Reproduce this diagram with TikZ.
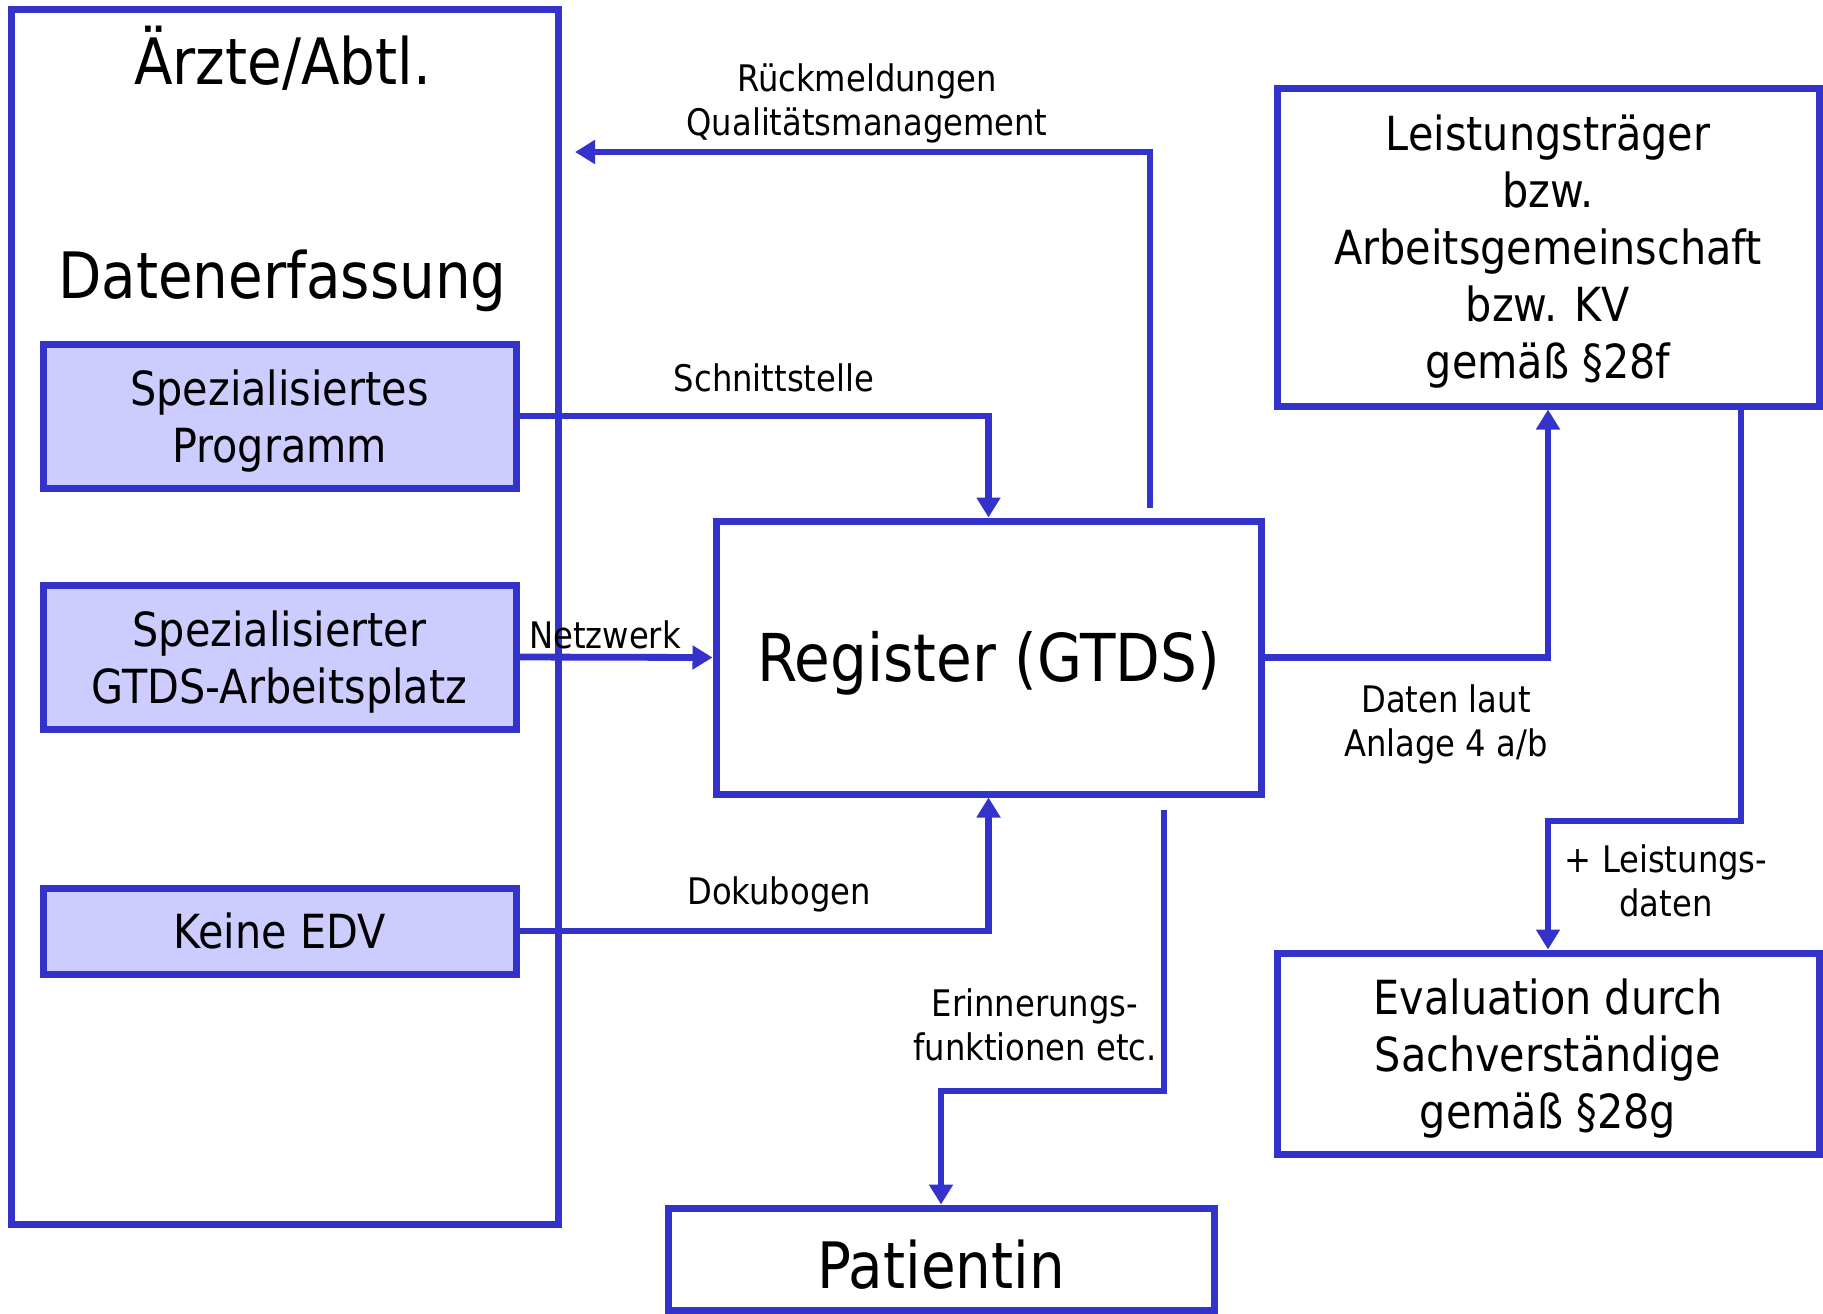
\documentclass[tikz,border=0pt]{standalone}
\usepackage{fontspec}
\setmainfont{DejaVu Sans}[FakeStretch=0.88]
\usetikzlibrary{arrows.meta,calc}
\definecolor{bl}{HTML}{3333CC}
\definecolor{lf}{HTML}{CCCCFF}
\begin{document}
\begin{tikzpicture}[x=0.5pt,y=-0.5pt,
  box/.style={draw=bl,line width=3.5pt,inner sep=0pt,align=center,text depth=0pt},
  boxfont/.style={font=\fontsize{23.5}{28.5}\selectfont},
  subbox/.style={box,boxfont,fill=lf,minimum width=236.5pt,minimum height=72pt},
  conn/.style={draw=bl,line width=3.4pt},
  arr/.style={conn,-{Triangle[length=10pt,width=11.5pt]}},
  lbl/.style={align=center,inner sep=0pt,text depth=0pt,font=\fontsize{18.3}{22}\selectfont}]
\useasboundingbox[fill=white] (0,0) rectangle (1823,1313);
\node[box,minimum width=273.2pt,minimum height=607.4pt] (frame) at (284.8,616.7) {};
\node[inner sep=0pt,font=\fontsize{32}{38}\selectfont] (t1) at (282.5,58) {Ärzte/Abtl.};
\node[inner sep=0pt,font=\fontsize{32}{38}\selectfont] (t2) at (282.5,280.5) {Datenerfassung};
\node[subbox] (sp) at (279.5,416) {Spezialisiertes\\Programm};
\node[subbox] (sg) at (279.5,657) {Spezialisierter\\GTDS-Arbeitsplatz};
\node[subbox,minimum height=43pt] (ke) at (279.5,931) {Keine EDV};
\node[box,minimum width=272.5pt,minimum height=136.5pt,text depth=1.5pt,font=\fontsize{33}{39}\selectfont] (reg) at (988.5,657.5) {Register (GTDS)};
\node[box,boxfont,minimum width=271pt,minimum height=159pt] (lt) at (1548,247) {Leistungsträger\\bzw.\\Arbeitsgemeinschaft\\bzw. KV\\gemäß §28f};
\node[box,boxfont,minimum width=271pt,minimum height=100.5pt] (ev) at (1548,1053.5) {Evaluation durch\\Sachverständige\\gemäß §28g};
\node[box,minimum width=273pt,minimum height=51pt,text height=29pt,font=\fontsize{32}{38}\selectfont] (pa) at (941,1259) {Patientin};

\coordinate (rs) at (1150,508);
\coordinate (rt) at (575,152);
\draw[arr] (rs) |- (rt);
\draw[arr] (sp.east) -| (reg.north);
\draw[arr] (sg.east) -- (reg.west);
\draw[arr] (ke.east) -| (reg.south);
\draw[arr] (reg.east) -| (lt.south);
\draw[arr] ($(lt.south)+(193,0)$) -- ++(0,411.5) -| (ev.north);
\coordinate (es) at (1164,810);
\draw[arr] (es) -- ++(0,281) -| (pa.north);

\node[lbl] (l1) at (867,100) {Rückmeldungen\\Qualitätsmanagement};
\node[lbl] (l2) at (774,378) {Schnittstelle};
\node[lbl] (l3) at (605,635) {Netzwerk};
\node[lbl] (l4) at (779,891) {Dokubogen};
\node[lbl] (l5) at (1446,721) {Daten laut\\Anlage 4 a/b};
\node[lbl] (l6) at (1666,881) {+ Leistungs-\\daten};
\node[lbl] (l7) at (1035,1025) {Erinnerungs-\\funktionen etc.};
\end{tikzpicture}
\end{document}
